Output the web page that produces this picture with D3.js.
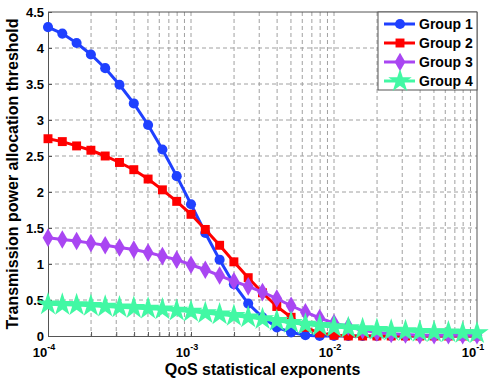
<!DOCTYPE html>
<html>
<head>
<meta charset="utf-8">
<script src="https://cdn.jsdelivr.net/npm/d3@7"></script>
<style>
body { margin: 0; background: #fff; }
text { font-family: "Liberation Sans", Arial, sans-serif; font-weight: bold; }
</style>
</head>
<body>
<div id="chart"></div>
<script>
// QoS exponents (x), 10 points per decade
var xs = [1e-4, 1.259e-4, 1.585e-4, 1.995e-4, 2.512e-4, 3.162e-4, 3.981e-4, 5.012e-4, 6.310e-4, 7.943e-4,
          1e-3, 1.259e-3, 1.585e-3, 1.995e-3, 2.512e-3, 3.162e-3, 3.981e-3, 5.012e-3, 6.310e-3, 7.943e-3,
          1e-2, 1.259e-2, 1.585e-2, 1.995e-2, 2.512e-2, 3.162e-2, 3.981e-2, 5.012e-2, 6.310e-2, 7.943e-2, 1e-1];

var group1 = [4.29, 4.20, 4.07, 3.91, 3.72, 3.49, 3.23, 2.93, 2.59, 2.22,
              1.83, 1.43, 1.06, 0.72, 0.45, 0.26, 0.12, 0.05, 0.01, 0.0,
              0, 0, 0, 0, 0, 0, 0, 0, 0, 0, 0];
var group2 = [2.74, 2.70, 2.64, 2.58, 2.50, 2.41, 2.31, 2.18, 2.03, 1.87,
              1.69, 1.48, 1.26, 1.03, 0.81, 0.60, 0.41, 0.26, 0.12, 0.04,
              0.01, 0, 0, 0, 0, 0, 0, 0, 0, 0, 0];
var group3 = [1.365, 1.34, 1.32, 1.29, 1.26, 1.23, 1.20, 1.16, 1.11, 1.06,
              0.99, 0.92, 0.84, 0.76, 0.69, 0.61, 0.52, 0.42, 0.33, 0.25,
              0.18, 0.13, 0.08, 0.05, 0.03, 0.02, 0.01, 0.01, 0.01, 0.01, 0.01];
var group4 = [0.44, 0.435, 0.43, 0.42, 0.41, 0.40, 0.39, 0.38, 0.37, 0.355,
              0.34, 0.32, 0.30, 0.28, 0.26, 0.235, 0.21, 0.185, 0.16, 0.14,
              0.125, 0.11, 0.095, 0.085, 0.075, 0.068, 0.06, 0.055, 0.05, 0.045, 0.04];

var seriesNames = ["Group 1", "Group 2", "Group 3", "Group 4"];
var yTicks = [0, 0.5, 1, 1.5, 2, 2.5, 3, 3.5, 4, 4.5];
var xTickExp = [-4, -3, -2, -1];

var colors = ["#1f40ff", "#ff0000", "#a946f2", "#42f8a4"];
var symbols = [d3.symbolCircle, d3.symbolSquare, d3.symbolDiamond, d3.symbolStar];
var symSizes = [80, 80, 100, 170];

var margin = {top: 12, right: 14, bottom: 45, left: 48},
    width = 491 - margin.left - margin.right,
    height = 381 - margin.top - margin.bottom;

var svg = d3.select("#chart")
  .append("svg")
    .attr("width", 491)
    .attr("height", 381)
  .append("g")
    .attr("transform", "translate(" + margin.left + "," + margin.top + ")");

var x = d3.scaleLog().domain([1e-4, 1e-1]).range([0, width]);
var y = d3.scaleLinear().domain([0, 4.5]).range([height, 0]);

// grid lines (major + minor on x)
var xGrid = [];
xTickExp.forEach(function (e) {
  for (var m = 1; m <= 9; m++) {
    var v = m * Math.pow(10, e);
    if (v > 1e-4 && v < 1e-1) xGrid.push(v);
  }
});
svg.append("g").selectAll("line")
  .data(xGrid).enter().append("line")
    .attr("x1", function (d) { return x(d); })
    .attr("x2", function (d) { return x(d); })
    .attr("y1", 0).attr("y2", height)
    .attr("stroke", "#a0a0a0").attr("stroke-width", 1)
    .attr("stroke-dasharray", "4,3");
svg.append("g").selectAll("line")
  .data(yTicks.slice(1, -1)).enter().append("line")
    .attr("x1", 0).attr("x2", width)
    .attr("y1", function (d) { return y(d); })
    .attr("y2", function (d) { return y(d); })
    .attr("stroke", "#a0a0a0").attr("stroke-width", 1)
    .attr("stroke-dasharray", "4,3");

// axes
var yAxis = d3.axisLeft(y).tickValues(yTicks).tickSizeInner(-4).tickSizeOuter(0).tickPadding(4)
  .tickFormat(function (d) { return d3.format("")(d); });
var gy = svg.append("g").call(yAxis);
gy.selectAll("text").style("font-size", "13px").attr("fill", "#000");
gy.select(".domain").attr("stroke", "#555");
gy.selectAll(".tick line").attr("stroke", "#555");

var xAxis = d3.axisBottom(x).tickValues(xGrid).tickSizeInner(-4).tickSizeOuter(0).tickFormat("");
var gx = svg.append("g").attr("transform", "translate(0," + height + ")").call(xAxis);
gx.select(".domain").attr("stroke", "#555");
gx.selectAll(".tick line").attr("stroke", "#555");

// top and right border
svg.append("line").attr("x1", 0).attr("x2", width).attr("y1", 0).attr("y2", 0).attr("stroke", "#555");
svg.append("line").attr("x1", width).attr("x2", width).attr("y1", 0).attr("y2", height).attr("stroke", "#555");

// x tick labels 10^e
var xl = svg.append("g").selectAll("text")
  .data(xTickExp).enter().append("text")
    .attr("x", function (d) { return x(Math.pow(10, d)) - 4; })
    .attr("y", height + 21)
    .attr("text-anchor", "middle")
    .style("font-size", "13px");
xl.append("tspan").text("10");
xl.append("tspan").attr("dy", -7).style("font-size", "9px")
  .text(function (d) { return "-" + Math.abs(d); });

// axis titles
svg.append("text")
  .attr("x", width / 2)
  .attr("y", height + 39)
  .attr("text-anchor", "middle")
  .style("font-size", "16px")
  .text("QoS statistical exponents");

svg.append("text")
  .attr("transform", "rotate(-90)")
  .attr("x", -height / 2)
  .attr("y", -margin.left + 18)
  .attr("text-anchor", "middle")
  .style("font-size", "16px")
  .text("Transmission power allocation threshold");

// series
var allSeries = [group1, group2, group3, group4];
var line = d3.line()
  .x(function (d, i) { return x(xs[i]); })
  .y(function (d) { return y(d); });

allSeries.forEach(function (s, k) {
  svg.append("path")
    .datum(s)
    .attr("d", line)
    .attr("fill", "none")
    .attr("stroke", colors[k])
    .attr("stroke-width", 3);
  svg.append("g").selectAll("path")
    .data(s).enter().append("path")
      .attr("transform", function (d, i) { return "translate(" + x(xs[i]) + "," + y(d) + ")"; })
      .attr("d", d3.symbol().type(symbols[k]).size(symSizes[k]))
      .attr("fill", colors[k]);
});

// legend
var lg = svg.append("g").attr("transform", "translate(" + (width - 99) + ",0)");
lg.append("rect").attr("width", 99).attr("height", 78)
  .attr("fill", "#fff").attr("stroke", "#555");
seriesNames.forEach(function (n, k) {
  var ly = 12 + k * 19;
  lg.append("line").attr("x1", 6).attr("x2", 37).attr("y1", ly).attr("y2", ly)
    .attr("stroke", colors[k]).attr("stroke-width", 3);
  lg.append("path").attr("transform", "translate(22," + ly + ")")
    .attr("d", d3.symbol().type(symbols[k]).size(symSizes[k]))
    .attr("fill", colors[k]);
  lg.append("text").attr("x", 41).attr("y", ly + 5)
    .style("font-size", "14px").text(n);
});
</script>
</body>
</html>
